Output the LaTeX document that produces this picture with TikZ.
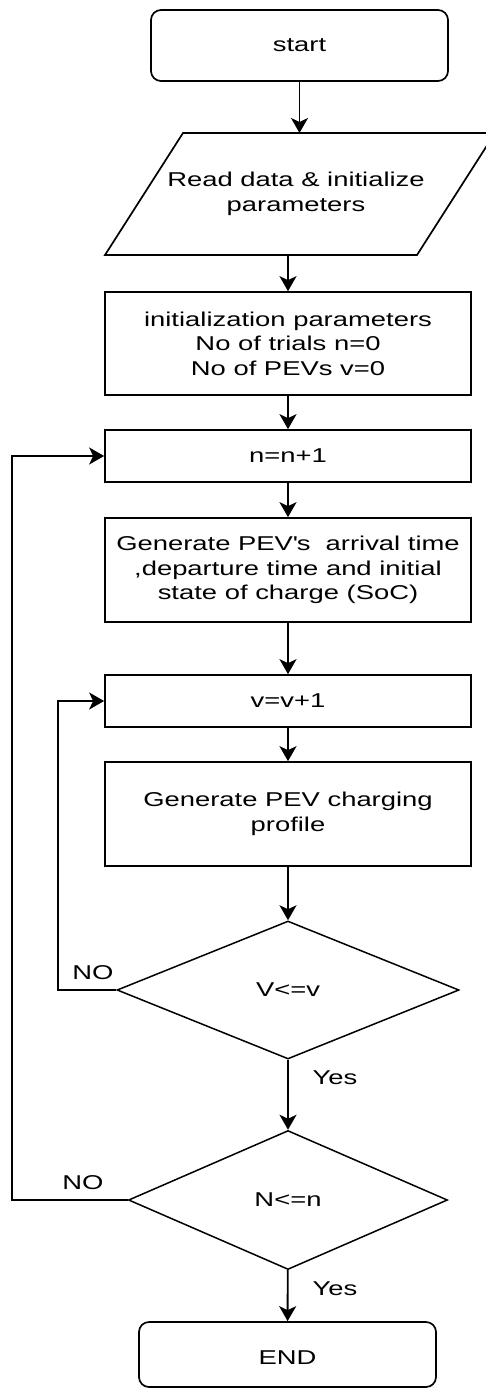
\documentclass[tikz,border=0pt]{standalone}
\usepackage{fontspec}
\setmainfont{Liberation Sans}[FakeStretch=1.37]
\usetikzlibrary{arrows.meta,shapes.geometric}
\tikzset{
  every node/.style={font=\fontsize{20}{24.5}\selectfont,inner sep=0pt},
  flow/.style={-{Stealth[length=15pt,width=17pt,inset=4pt]},line width=1.9pt},
  box/.style={draw,line width=1.7pt,minimum width=366pt,align=center},
  term/.style={box,rounded corners=10pt,minimum width=297pt},
  decide/.style={draw,diamond,line width=1.5pt},
  note/.style={font=\fontsize{20}{22}\selectfont},
}
\begin{document}
\begin{tikzpicture}[x=1pt,y=-1pt]   % pixel grid, y down
\path[use as bounding box] (0,0) rectangle (485,1389);

\node[term,minimum height=71pt] (start) at (299.5,45.5) {start};

% input block drawn as a slanted outline round its text
\node[align=center] (read) at (296,194) {Read data \& initialize\\parameters};
\draw[line width=1.7pt] (105,255) -- (183,133) -- (495,133) -- (417,255) -- cycle;
\coordinate (readtop) at (299.5,133);
\coordinate (readbot) at (288,255);

\node[box,minimum height=103pt] (init) at (288,343.5)
     {initialization parameters\\No of trials n=0\\No of PEVs v=0};
\node[box,minimum height=52pt] (incn) at (288,456) {n=n+1};
\node[box,minimum height=104pt] (gen) at (288,570)
     {Generate PEV\textquotesingle s\ \ arrival time\\,departure time and initial\\state of charge (SoC)};
\node[box,minimum height=52pt] (incv) at (288,701) {v=v+1};
\node[box,minimum height=104pt] (prof) at (288,814) {Generate PEV charging\\profile};
\node[decide,minimum width=342pt,minimum height=138pt] (chkv) at (288,990) {V<=v};
\node[decide,minimum width=319pt,minimum height=139pt] (chkn) at (288,1200) {N<=n};
\node[term,minimum height=65pt] (stop) at (287.5,1354.5) {};
\node at (287.5,1358) {END};

\draw[flow] (start) -- (readtop);
\draw[flow] (readbot) -- (init);
\draw[flow] (init) -- (incn);
\draw[flow] (incn) -- (gen);
\draw[flow] (gen) -- (incv);
\draw[flow] (incv) -- (prof);
\draw[flow] (prof) -- (chkv);
\draw[flow] (chkv) -- (chkn);
\draw[flow] (chkn) -- (stop);

% the two NO branches loop back on the left
\draw[flow] (chkv.west) -- ++(-58,0) |- (incv.west);
\draw[flow] (chkn.west) -- ++(-116,0) |- (incn.west);

\node[note] (nov) at (93,973) {NO};
\node[note] (non) at (83,1183) {NO};
\node[note] (yesv) at (335,1078) {Yes};
\node[note] (yesn) at (335,1289) {Yes};
\end{tikzpicture}
\end{document}
